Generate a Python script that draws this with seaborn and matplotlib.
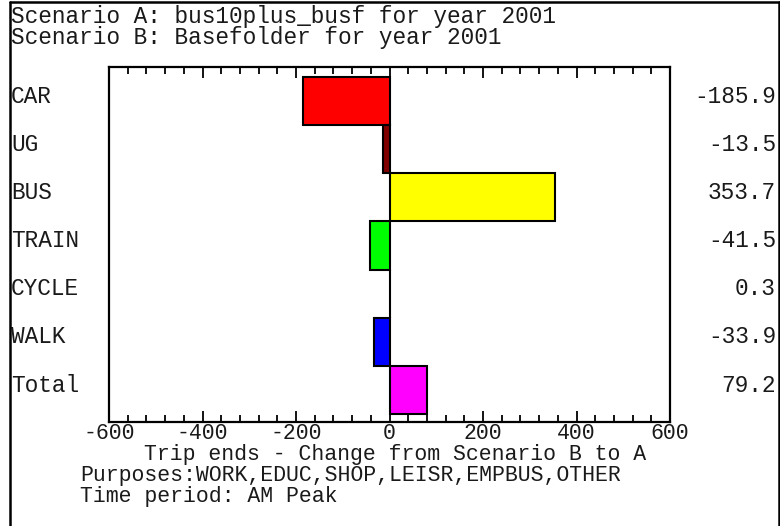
import pandas as pd
import seaborn as sns
import matplotlib.pyplot as plt
from matplotlib.lines import Line2D
from matplotlib.ticker import MultipleLocator
from matplotlib.transforms import blended_transform_factory

# datos
Modos = ["CAR", "UG", "BUS", "TRAIN", "CYCLE", "WALK", "Total"]
Cambios = [-185.9, -13.5, 353.7, -41.5, 0.3, -33.9, 79.2]
Etiquetas = ["-185.9", "-13.5", "353.7", "-41.5", "0.3", "-33.9", "79.2"]
Colores = ["#ff0000", "#800000", "#ffff00", "#00ff00", "#00ffff", "#0000ff", "#ff00ff"]
Ticks = [-600, -400, -200, 0, 200, 400, 600]
TickLabels = ["-600", "-400", "-200", "0", "200", "400", "600"]

Titulo1 = "Scenario A: bus10plus_busf for year 2001"
Titulo2 = "Scenario B: Basefolder for year 2001"
EjeX = "Trip ends - Change from Scenario B to A"
Propositos = "Purposes:WORK,EDUC,SHOP,LEISR,EMPBUS,OTHER"
Periodo = "Time period: AM Peak"

sns.set_style("white")
plt.rcParams['font.family'] = ['Liberation Mono', 'DejaVu Sans Mono']
fs = 16.4
fs2 = 15.5
col = "#1a1a1a"

df = pd.DataFrame({"modo": Modos, "cambio": Cambios})

fig = plt.figure(figsize=(7.8, 5.26), dpi=100)
ax = fig.add_axes([109/780, 1-422/526, 561/780, 355/526])

sns.barplot(data=df, x="cambio", y="modo", hue="modo", palette=Colores,
            orient="h", width=1.0, saturation=1, edgecolor="black", linewidth=1.5,
            legend=False, ax=ax)

ax.set_xlim(-600, 600)
ax.set_ylim(6.666, -0.707)
ax.xaxis.set_major_locator(MultipleLocator(200))
ax.xaxis.set_minor_locator(MultipleLocator(40))
ax.set_xticks(Ticks)
ax.set_xticklabels(TickLabels)
ax.tick_params(axis="x", which="both", direction="in", top=True, bottom=True,
               labelsize=fs2, pad=1, colors="black", labelcolor=col)
ax.tick_params(axis="x", which="major", length=8, width=1.3)
ax.tick_params(axis="x", which="minor", length=5, width=1.3)
ax.set_yticks([])
ax.set_ylabel("")
ax.set_xlabel("")
for s in ax.spines.values():
    s.set_linewidth(1.6)
    s.set_color("black")

# etiquetas de categoria y valores
tr = blended_transform_factory(fig.transFigure, ax.transData)
for i, (m, e) in enumerate(zip(Modos, Etiquetas)):
    ax.text(11/780, i - 0.1, m, transform=tr, ha="left", va="center", fontsize=fs, color=col)
    ax.text(776/780, i - 0.1, e, transform=tr, ha="right", va="center", fontsize=fs, color=col)

# textos
fig.text(11/780, 1-23/526, Titulo1, ha="left", va="baseline", fontsize=fs, color=col)
fig.text(11/780, 1-44/526, Titulo2, ha="left", va="baseline", fontsize=fs, color=col)
fig.text(395/780, 1-460/526, EjeX, ha="center", va="baseline", fontsize=fs2, color=col)
fig.text(80/780, 1-481/526, Propositos, ha="left", va="baseline", fontsize=fs2, color=col)
fig.text(80/780, 1-502/526, Periodo, ha="left", va="baseline", fontsize=fs2, color=col)

# marco
lw = 1.8
fig.add_artist(Line2D([10/780, 10/780], [0, 1-2/526], transform=fig.transFigure, color="black", lw=lw))
fig.add_artist(Line2D([10/780, 778.5/780], [1-2/526, 1-2/526], transform=fig.transFigure, color="black", lw=lw))
fig.add_artist(Line2D([778.5/780, 778.5/780], [0, 1-2/526], transform=fig.transFigure, color="black", lw=lw))

fig.savefig("out.png", dpi=100, facecolor="white")
